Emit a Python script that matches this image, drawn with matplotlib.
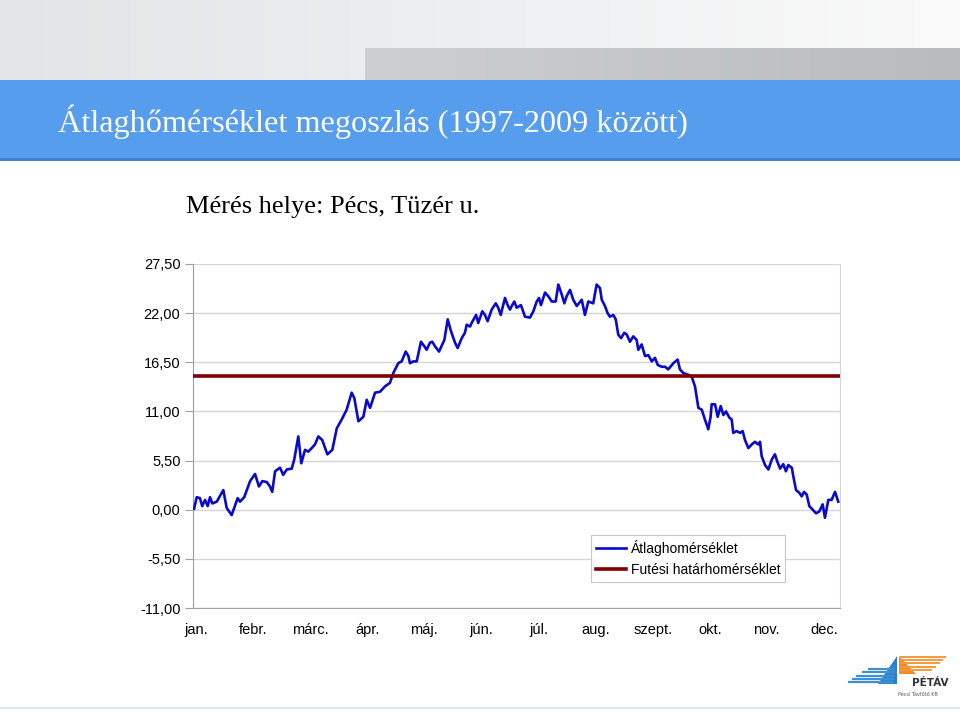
import numpy as np
import matplotlib
matplotlib.use("Agg")
import matplotlib.pyplot as plt
from matplotlib.patches import Rectangle, Polygon

# --- data ---
day = [0.6, 2.1, 3.9, 5.2, 6.8, 8.3, 9.6, 10.9, 13.4, 17.1, 19.0, 21.8, 25.2, 26.5, 28.9,
       32.2, 35.0, 37.2, 39.1, 41.6, 43.4, 44.7, 46.3, 49.1, 50.9, 52.9, 55.7, 57.1, 59.4,
       61.1, 63.2, 65.0, 67.0, 68.8, 70.7, 72.9, 75.8, 78.6, 81.1, 83.9, 86.7, 89.5, 91.0,
       93.3, 96.1, 98.0, 99.9, 102.7, 105.5, 108.3, 111.1, 113.0, 115.8, 117.7, 120.0, 121.5,
       122.4, 124.3, 126.2, 128.6, 130.5, 131.8, 133.7, 135.0, 136.5, 138.8, 141.8, 143.7,
       145.5, 147.8, 149.3, 151.6, 153.4, 154.4, 156.3, 157.2, 159.7, 160.9, 163.2, 164.7,
       166.2, 168.5, 170.8, 172.2, 173.6, 176.0, 177.5, 178.8, 180.1, 181.3, 182.6, 185.0,
       187.3, 190.1, 192.0, 193.9, 195.2, 196.3, 198.6, 200.4, 202.4, 204.6, 206.1, 208.0,
       209.5, 210.8, 212.7, 214.5, 216.5, 219.3, 221.1, 223.0, 225.8, 227.7, 229.6, 230.6,
       232.4, 233.9, 235.2, 237.1, 238.5, 239.9, 241.5, 243.3, 244.7, 246.5, 248.4, 250.3,
       251.2, 253.1, 255.0, 256.9, 258.8, 260.6, 262.2, 264.4, 266.3, 268.1, 271.0, 273.4,
       274.7, 276.6, 279.4, 281.3, 283.2, 285.1, 287.0, 288.8, 290.7, 292.0, 292.6, 294.5,
       296.0, 297.7, 299.2, 300.7, 302.6, 303.9, 304.8, 306.7, 308.6, 310.1, 311.4, 313.3,
       315.2, 317.0, 318.9, 319.9, 320.8, 322.7, 324.6, 326.5, 328.3, 329.6, 331.2, 333.0,
       334.5, 335.8, 337.8, 338.7, 340.2, 342.0, 343.4, 344.7, 346.2, 347.7, 349.6, 351.5,
       353.3, 355.2, 356.5, 358.4, 360.3, 362.2, 364.0]
avg_temp = [0.1, 1.4, 1.3, 0.4, 1.1, 0.4, 1.4, 0.7, 0.9, 2.2, 0.2, -0.6, 1.3, 0.9, 1.4,
            3.2, 4.0, 2.6, 3.2, 3.1, 2.6, 2.0, 4.3, 4.7, 3.9, 4.5, 4.6, 5.6, 8.2,
            5.2, 6.7, 6.5, 6.9, 7.3, 8.2, 7.8, 6.2, 6.7, 9.1, 10.1, 11.2, 13.1, 12.5,
            9.9, 10.4, 12.3, 11.4, 13.1, 13.2, 13.8, 14.2, 15.3, 16.4, 16.6, 17.7, 17.2,
            16.4, 16.6, 16.6, 18.8, 18.3, 17.9, 18.7, 18.8, 18.3, 17.7, 19.0, 21.3,
            20.0, 18.7, 18.1, 19.2, 19.8, 20.7, 20.5, 20.9, 21.8, 20.9, 22.2, 21.8,
            21.1, 22.4, 23.1, 22.6, 21.8, 23.7, 22.9, 22.4, 22.9, 23.3, 22.6, 22.9,
            21.6, 21.5, 22.2, 23.3, 23.7, 22.9, 24.3, 23.9, 23.3, 23.3, 25.2, 24.1,
            23.1, 23.9, 24.6, 23.5, 22.8, 23.5, 21.8, 23.3, 23.1, 25.2, 24.8, 23.5,
            22.8, 22.0, 21.6, 21.8, 21.3, 19.6, 19.2, 19.8, 19.6, 18.8, 19.4, 19.0,
            17.9, 18.5, 17.2, 17.3, 16.6, 17.0, 16.2, 16.0, 16.0, 15.7, 16.4, 16.8,
            15.7, 15.3, 15.1, 14.9, 13.8, 11.4, 11.2, 10.1, 9.0, 10.4, 11.8, 11.8,
            10.4, 11.6, 10.6, 11.0, 10.3, 10.1, 8.6, 8.8, 8.6, 8.8, 7.8, 6.9,
            7.3, 7.6, 7.3, 7.6, 6.0, 5.0, 4.5, 5.6, 6.2, 5.4, 4.6, 5.1,
            4.3, 5.0, 4.7, 3.7, 2.2, 1.9, 1.5, 2.0, 1.7, 0.4, 0.0, -0.4,
            -0.2, 0.6, -0.9, 1.1, 1.1, 2.0, 0.9]
heating_limit = 15.0
months = ["jan.", "febr.", "márc.", "ápr.", "máj.", "jún.", "júl.", "aug.",
          "szept.", "okt.", "nov.", "dec."]
y_ticks = [-11.0, -5.5, 0.0, 5.5, 11.0, 16.5, 22.0, 27.5]

W, H = 960, 712
fig = plt.figure(figsize=(W / 100, H / 100), dpi=100)

# ------------------------------
# slide background (pixel coords)
# ------------------------------
bg = fig.add_axes([0, 0, 1, 1], zorder=0)
bg.axis("off")

grad = np.linspace(0, 1, 256).reshape(1, -1)
bg.imshow(grad, extent=[0, W, 80, 0], aspect="auto",
          cmap=matplotlib.colors.LinearSegmentedColormap.from_list("g1", ["#e2e4e7", "#fafafa"]))
bg.imshow(grad, extent=[365, W, 80, 48], aspect="auto",
          cmap=matplotlib.colors.LinearSegmentedColormap.from_list("g2", ["#cdd0d3", "#b9bbbe"]))
bg.add_patch(Rectangle((0, 80), W, 80, color="#579ded", lw=0))
bg.add_patch(Rectangle((0, 158), W, 3, color="#3f7fcb", lw=0))
bg.add_patch(Rectangle((0, 707), W, 2, color="#dfe9f2", lw=0))
bg.set_xlim(0, W)
bg.set_ylim(H, 0)

bg.text(58, 122, "Átlaghőmérséklet megoszlás (1997-2009 között)", color="white",
        fontsize=23.2, family="Liberation Serif", va="center", ha="left")
bg.text(186, 207, "Mérés helye: Pécs, Tüzér u.", color="black",
        fontsize=19, family="Liberation Serif", va="center", ha="left")

# logo (rough)
for i, (x0, ln) in enumerate([(848, 45), (852, 42), (856, 38), (862, 33), (868, 27)]):
    yy = 682 - i * 3.2
    bg.plot([x0, x0 + ln], [yy, yy], color="#3d8fd6", lw=1.6, solid_capstyle="butt")
bg.add_patch(Polygon([[878, 684], [897, 684], [897, 656]], color="#2f7fcf", lw=0))
bg.add_patch(Polygon([[899, 656], [899, 674], [916, 674]], color="#f08a2c", lw=0))
for i, ln in enumerate([46, 43, 40, 36, 32]):
    yy = 657 + i * 3.2
    bg.plot([900, 900 + ln], [yy, yy], color="#f59a3c", lw=1.4, solid_capstyle="butt")
bg.text(912, 683, "PÉTÁV", fontsize=7.5, weight="bold", color="#333333",
        family="DejaVu Sans", va="center", ha="left")
bg.text(898, 694, "Pécsi Távfűtő Kft", fontsize=3.5, color="#555555",
        family="DejaVu Sans", va="center", ha="left")

# ------------------------------
# chart
# ------------------------------
ax = fig.add_axes([193 / W, 1 - 608 / H, (840 - 193) / W, (608 - 264) / H], zorder=2)
ax.patch.set_alpha(0)

blue, = ax.plot(day, avg_temp, color="#0a0acc", lw=1.9, label="Átlaghomérséklet", zorder=3)
red = ax.axhline(heating_limit, color="#7f0000", lw=2.6, label="Futési határhomérséklet", zorder=4)

ax.set_xlim(0, 365)
ax.set_ylim(-11, 27.5)
ax.set_yticks(y_ticks)
ax.set_yticklabels([f"{v:.2f}".replace(".", ",") for v in y_ticks],
                   fontsize=10.5, family="Liberation Sans")
ax.grid(axis="y", color="#d6d6d6", lw=1)
ax.set_axisbelow(True)
ax.tick_params(axis="y", length=6, color="#a0a0a0", pad=3)

month_pos = np.linspace(1.7, 355.9, len(months))
ax.set_xticks(month_pos)
ax.set_xticklabels(months, fontsize=10.5, family="Liberation Sans")
ax.tick_params(axis="x", length=0, pad=11)

for side in ["left", "bottom"]:
    ax.spines[side].set_color("#a0a0a0")
ax.spines["right"].set_color("#d6d6d6")
ax.spines["top"].set_visible(False)

leg = ax.legend(handles=[blue, red], loc="upper left",
                bbox_to_anchor=(591 / W, 1 - 535 / H), bbox_transform=fig.transFigure,
                prop={"family": "Liberation Sans", "size": 10},
                frameon=True, fancybox=False, edgecolor="#c8c8c8", framealpha=1,
                handlelength=2.2, handletextpad=0.3, borderpad=0.35, labelspacing=0.5,
                borderaxespad=0)
leg.get_frame().set_linewidth(0.8)

fig.savefig("out.png", dpi=100)
